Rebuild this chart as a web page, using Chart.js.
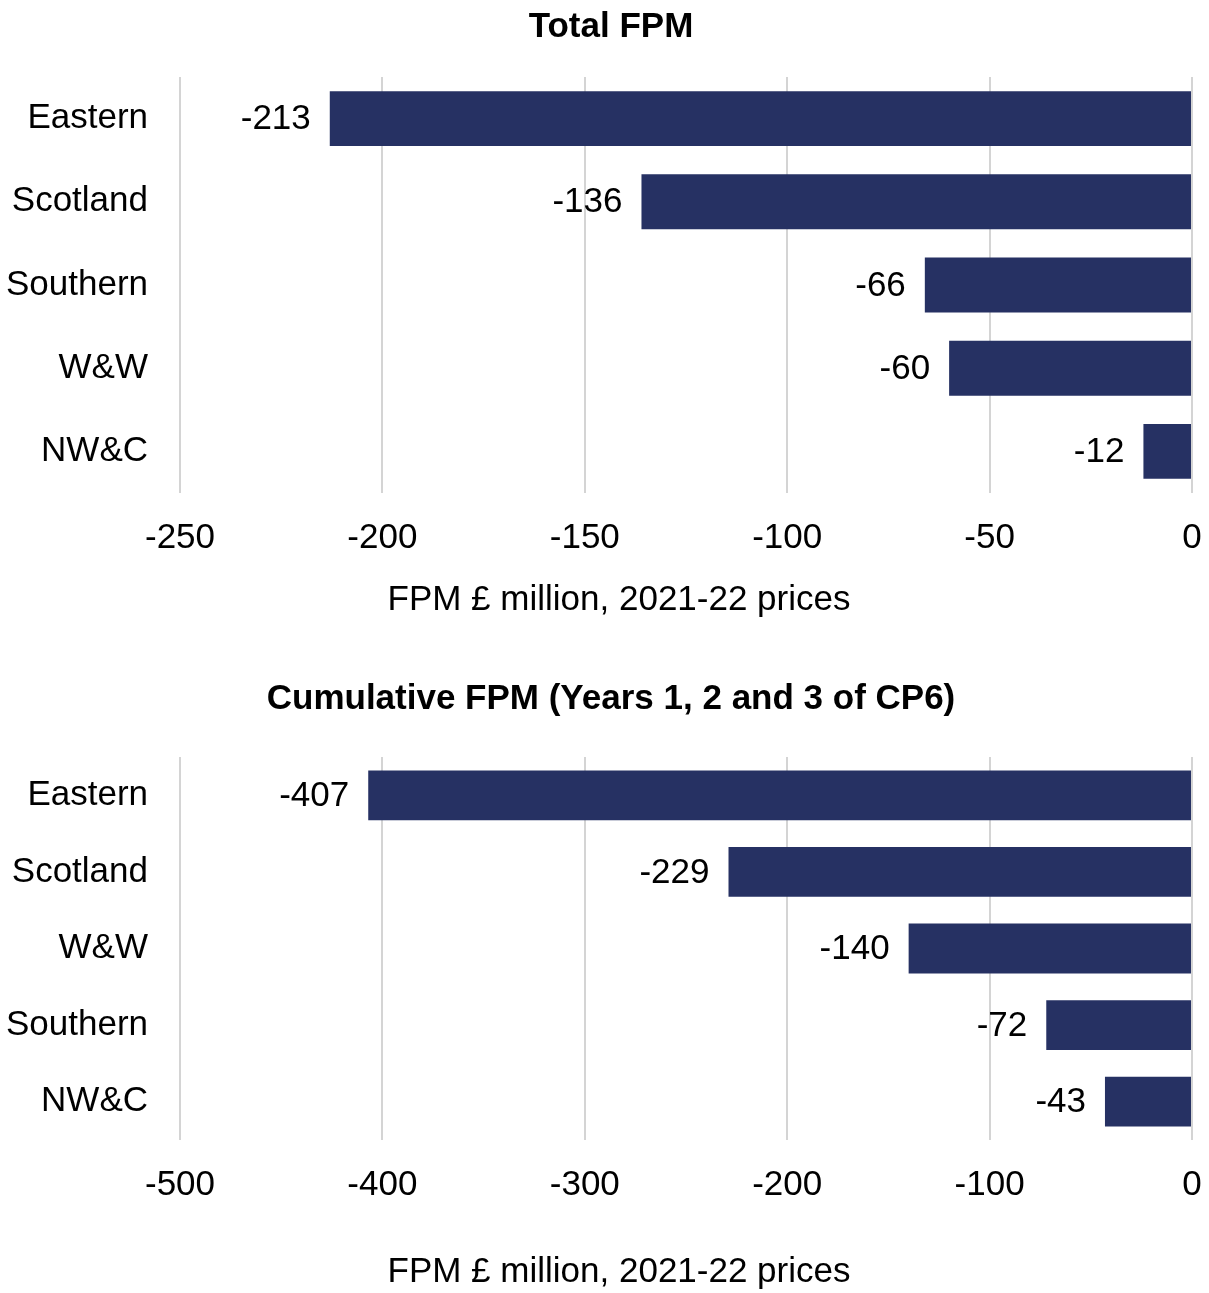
<!DOCTYPE html>
<html>
<head>
<meta charset="utf-8">
<title>FPM by region</title>
<script src="https://cdn.jsdelivr.net/npm/chart.js@4.4.1/dist/chart.umd.min.js"></script>
<style>
    body { margin: 0; background: #ffffff; width: 1209px; height: 1293px; position: relative; overflow: hidden; }
    canvas { position: absolute; left: 0; }
    #total-chart { top: 0; }
    #cumulative-chart { top: 650px; }
</style>
</head>
<body>
<canvas id="total-chart" width="1209" height="620"></canvas>
<canvas id="cumulative-chart" width="1209" height="643"></canvas>
<script>
// Chart data
const totalRegions = ['Eastern', 'Scotland', 'Southern', 'W&W', 'NW&C'];
const totalValues = [-213, -136, -66, -60, -12];
const totalTicks = [-250, -200, -150, -100, -50, 0];

const cumulativeRegions = ['Eastern', 'Scotland', 'W&W', 'Southern', 'NW&C'];
const cumulativeValues = [-407, -229, -140, -72, -43];
const cumulativeTicks = [-500, -400, -300, -200, -100, 0];

const BAR_COLOUR = '#263163';
const GRID_COLOUR = '#d4d4d4';
const FONT_FAMILY = '"Liberation Sans", Arial, sans-serif';
const FONT_SIZE = 35;
const AXIS_TITLE = 'FPM \u00a3 million, 2021-22 prices';

// Draw the value to the left of each bar end
const valueLabels = {
    id: 'valueLabels',
    afterDatasetsDraw(chart) {
        const ctx = chart.ctx;
        const meta = chart.getDatasetMeta(0);
        const values = chart.data.datasets[0].data;
        ctx.save();
        ctx.font = FONT_SIZE + 'px ' + FONT_FAMILY;
        ctx.fillStyle = '#000000';
        ctx.textAlign = 'right';
        ctx.textBaseline = 'middle';
        meta.data.forEach((bar, i) => {
            ctx.fillText(String(values[i]), bar.x - 19, bar.y + 1);
        });
        ctx.restore();
    }
};

// Chart title and axis title, placed like the original layout
const headings = {
    id: 'headings',
    afterDraw(chart, args, opts) {
        const ctx = chart.ctx;
        ctx.save();
        ctx.fillStyle = '#000000';
        ctx.textAlign = 'center';
        ctx.textBaseline = 'middle';
        ctx.font = 'bold 35px ' + FONT_FAMILY;
        ctx.fillText(opts.title, 611, opts.titleY);
        ctx.font = FONT_SIZE + 'px ' + FONT_FAMILY;
        ctx.fillText(AXIS_TITLE, 619, opts.axisTitleY);
        ctx.restore();
    }
};

function createChart(canvasId, opts) {
    const ctx = document.getElementById(canvasId).getContext('2d');
    return new Chart(ctx, {
        type: 'bar',
        data: {
            labels: opts.labels,
            datasets: [{
                data: opts.values,
                backgroundColor: BAR_COLOUR,
                barPercentage: opts.barPercentage,
                categoryPercentage: 1
            }]
        },
        plugins: [valueLabels, headings],
        options: {
            responsive: false,
            animation: false,
            indexAxis: 'y',
            layout: { padding: { left: 0, right: 0, top: opts.plotTop, bottom: 0 } },
            plugins: {
                legend: { display: false },
                tooltip: { enabled: false },
                title: { display: false },
                headings: {
                    title: opts.title,
                    titleY: opts.titleY,
                    axisTitleY: opts.axisTitleY
                }
            },
            scales: {
                x: {
                    min: opts.ticks[0],
                    max: opts.ticks[opts.ticks.length - 1],
                    afterBuildTicks: function(scale) {
                        scale.ticks = opts.ticks.map(v => ({ value: v }));
                    },
                    afterFit: function(scale) {
                        scale.height = opts.xAxisHeight;
                        scale.paddingLeft = 0;
                        scale.paddingRight = 17;
                    },
                    border: { display: false },
                    grid: { color: GRID_COLOUR, lineWidth: 2, drawTicks: false },
                    ticks: {
                        padding: opts.tickPadding,
                        color: '#000000',
                        font: { family: FONT_FAMILY, size: FONT_SIZE, lineHeight: 1.2 }
                    }
                },
                y: {
                    afterFit: function(scale) {
                        scale.width = 180;
                    },
                    border: { display: false },
                    grid: { display: false, drawTicks: false },
                    ticks: {
                        padding: 32,
                        color: '#000000',
                        font: { family: FONT_FAMILY, size: FONT_SIZE, lineHeight: 1.2 }
                    }
                }
            }
        }
    });
}

createChart('total-chart', {
    labels: totalRegions,
    values: totalValues,
    ticks: totalTicks,
    title: 'Total FPM',
    titleY: 27,
    plotTop: 77,
    xAxisHeight: 127,
    tickPadding: 24,
    axisTitleY: 600,
    barPercentage: 0.66
});

createChart('cumulative-chart', {
    labels: cumulativeRegions,
    values: cumulativeValues,
    ticks: cumulativeTicks,
    title: 'Cumulative FPM (Years 1, 2 and 3 of CP6)',
    titleY: 49,
    plotTop: 107,
    xAxisHeight: 153,
    tickPadding: 24,
    axisTitleY: 622,
    barPercentage: 0.65
});
</script>
</body>
</html>
